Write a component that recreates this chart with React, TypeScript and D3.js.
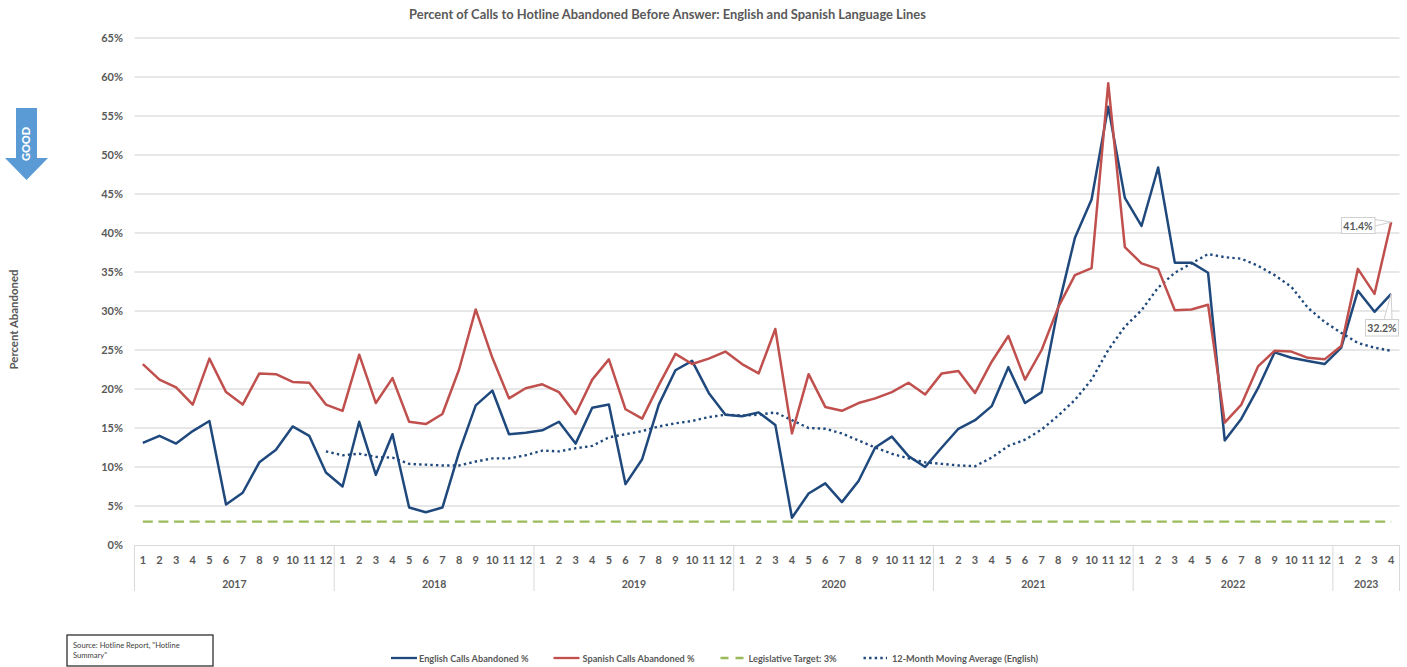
import React from 'react';
import * as d3 from 'd3';

const width = 1407;
const height = 667;

const years = [2017, 2018, 2019, 2020, 2021, 2022, 2023];
const monthsPerYear = [12, 12, 12, 12, 12, 12, 4];
const yTicks = d3.range(0, 70, 5);

const english = [
  13.1, 14.0, 13.0, 14.6, 15.9, 5.2, 6.7, 10.6, 12.2, 15.2, 14.0, 9.3,
  7.5, 15.8, 9.0, 14.2, 4.8, 4.2, 4.8, 11.9, 17.9, 19.8, 14.2, 14.4,
  14.7, 15.8, 13.0, 17.6, 18.0, 7.8, 11.0, 18.0, 22.4, 23.6, 19.5, 16.7,
  16.5, 17.0, 15.4, 3.5, 6.6, 7.9, 5.5, 8.2, 12.5, 13.9, 11.4, 10.0,
  12.5, 14.9, 16.0, 17.8, 22.8, 18.2, 19.6, 30.5, 39.4, 44.3, 56.2, 44.5,
  40.9, 48.4, 36.2, 36.2, 34.9, 13.4, 16.2, 20.1, 24.7, 24.0, 23.6, 23.2,
  25.3, 32.6, 29.9, 32.2,
];

const spanish = [
  23.2, 21.2, 20.2, 18.0, 23.9, 19.6, 18.0, 22.0, 21.9, 20.9, 20.8, 18.0,
  17.2, 24.4, 18.2, 21.4, 15.8, 15.5, 16.8, 22.5, 30.2, 24.0, 18.8, 20.1,
  20.6, 19.6, 16.8, 21.2, 23.8, 17.4, 16.2, 20.5, 24.5, 23.2, 23.9, 24.8,
  23.2, 22.0, 27.7, 14.3, 21.9, 17.7, 17.2, 18.2, 18.8, 19.6, 20.8, 19.3,
  22.0, 22.3, 19.5, 23.5, 26.8, 21.2, 25.0, 30.5, 34.6, 35.5, 59.2, 38.2,
  36.1, 35.4, 30.1, 30.2, 30.8, 15.7, 18.0, 22.9, 24.9, 24.8, 24.0, 23.8,
  25.5, 35.4, 32.2, 41.4,
];

// moving average has no value for the first 11 months
const movingAvg: (number | null)[] = [
  null, null, null, null, null, null, null, null, null, null, null, 12.0,
  11.5, 11.7, 11.3, 11.2, 10.4, 10.3, 10.2, 10.2, 10.7, 11.1, 11.1, 11.5,
  12.1, 12.0, 12.4, 12.7, 13.8, 14.2, 14.6, 15.2, 15.6, 15.9, 16.4, 16.7,
  16.6, 16.7, 17.0, 16.0, 15.0, 14.9, 14.3, 13.4, 12.5, 11.7, 11.1, 10.6,
  10.4, 10.2, 10.1, 11.2, 12.7, 13.5, 14.8, 16.6, 18.6, 21.2, 25.0, 28.0,
  30.1, 33.0, 34.9, 36.1, 37.3, 36.9, 36.7, 35.8, 34.6, 33.1, 30.4, 28.6,
  27.2, 25.9, 25.3, 24.9,
];

const target = 3;

const months = years.flatMap((yr, i) => d3.range(1, monthsPerYear[i] + 1).map(m => ({ yr, m })));

const navy = '#1F497D';
const red = '#C0504D';
const green = '#9BBB59';
const gray = '#595959';
const font = 'Lato, sans-serif';

const x = d3.scaleBand<number>().domain(d3.range(months.length)).range([134.5, 1399.5]);
const y = d3.scaleLinear().domain([0, 65]).range([545, 38]);
const cx = (i: number) => (x(i) as number) + x.bandwidth() / 2;

const line = d3.line<number | null>()
  .defined(d => d !== null)
  .x((_, i) => cx(i))
  .y(d => y(d as number));

const yearEdges = years.map((yr, i) => {
  const first = d3.sum(monthsPerYear.slice(0, i));
  return { yr, left: x(first) as number, right: (x(first) as number) + monthsPerYear[i] * x.step() };
});

const legend = [
  { label: 'English Calls Abandoned %', x1: 391, x2: 417, tx: 419, color: navy, dash: undefined },
  { label: 'Spanish Calls Abandoned %', x1: 553.5, x2: 579.5, tx: 582.5, color: red, dash: undefined },
  { label: 'Legislative Target: 3%', x1: 720.5, x2: 743.5, tx: 748.5, color: green, dash: '8 7' },
  { label: '12-Month Moving Average (English)', x1: 863.5, x2: 887, tx: 892, color: navy, dash: '2.4 3.2' },
];

export default function App() {
  const last = months.length - 1;
  return (
    <svg width={width} height={height} style={{ position: 'absolute', left: 0, top: 0 }} fontFamily={font}>
      <rect width={width} height={height} fill="#fff" />
      <text x={667.5} y={18.5} textAnchor="middle" fontSize={12.9} fontWeight={700} fill={gray}>
        Percent of Calls to Hotline Abandoned Before Answer: English and Spanish Language Lines
      </text>

      {yTicks.map(t => (
        <g key={t}>
          {t > 0 && <line x1={134.5} x2={1399.5} y1={y(t)} y2={y(t)} stroke="#d0d0d0" strokeWidth={1.2} />}
          <text x={123} y={y(t) + 4} textAnchor="end" fontSize={11} fontWeight={700} fill={gray}>{t}%</text>
        </g>
      ))}

      {/* category axis, two levels */}
      <line x1={134.5} x2={1399.5} y1={545.5} y2={545.5} stroke="#d9d9d9" />
      {yearEdges.map(e => (
        <g key={e.yr}>
          <line x1={e.left} x2={e.left} y1={545} y2={591} stroke="#d9d9d9" />
          <text x={(e.left + e.right) / 2} y={587.5} textAnchor="middle" fontSize={10.5} fontWeight={700} fill={gray}>{e.yr}</text>
        </g>
      ))}
      <line x1={1399.5} x2={1399.5} y1={545} y2={591} stroke="#d9d9d9" />
      {months.map((d, i) => (
        <text key={i} x={cx(i)} y={564} textAnchor="middle" fontSize={11} fontWeight={700} fill={gray}>{d.m}</text>
      ))}

      <path d={line(months.map(() => target)) as string} fill="none" stroke={green} strokeWidth={2.2} strokeDasharray="10 5.6" />
      <path d={line(movingAvg) as string} fill="none" stroke={navy} strokeWidth={2.4} strokeDasharray="2.4 3.2" />
      <path d={line(english) as string} fill="none" stroke={navy} strokeWidth={2.5} strokeLinejoin="round" />
      <path d={line(spanish) as string} fill="none" stroke={red} strokeWidth={2.5} strokeLinejoin="round" />

      {/* data callouts on the last month */}
      <g fontSize={10.5} fontWeight={700} fill={gray}>
        <path d={`M1375 219.5L${cx(last)} ${y(spanish[last])}L1375 226`} fill="#fff" stroke="#d0d0d0" />
        <rect x={1341.5} y={217.5} width={33.5} height={16} fill="#fff" stroke="#d0d0d0" />
        <text x={1358} y={229.5} textAnchor="middle">41.4%</text>
        <path d={`M1384 319.5L${cx(last)} ${y(english[last])}L1392 319.5`} fill="#fff" stroke="#d0d0d0" />
        <rect x={1365.5} y={319.5} width={33} height={16.5} fill="#fff" stroke="#d0d0d0" />
        <text x={1382} y={332} textAnchor="middle">32.2%</text>
      </g>

      {/* GOOD arrow */}
      <path d="M16 108H37V158H48L26.5 180L5 158H16Z" fill="#5B9BD5" />
      <text transform="translate(30,144) rotate(-90)" textAnchor="middle" fontSize={11} fontWeight={900} fill="#fff">GOOD</text>

      <text transform="translate(18,319.5) rotate(-90)" textAnchor="middle" fontSize={11.4} fontWeight={700} fill={gray}>Percent Abandoned</text>

      {/* source note */}
      <rect x={67} y={635} width={146} height={31} fill="#fff" stroke="#303030" strokeWidth={1.3} />
      <text fontSize={7.6} fill="#404040">
        <tspan x={73} y={648}>Source: Hotline Report, "Hotline</tspan>
        <tspan x={73} y={658}>Summary"</tspan>
      </text>

      {/* legend */}
      {legend.map(l => (
        <g key={l.label}>
          <line x1={l.x1} x2={l.x2} y1={658} y2={658} stroke={l.color} strokeWidth={2.3} strokeDasharray={l.dash} />
          <text x={l.tx} y={661.5} fontSize={9.2} fontWeight={700} fill={gray}>{l.label}</text>
        </g>
      ))}
    </svg>
  );
}
